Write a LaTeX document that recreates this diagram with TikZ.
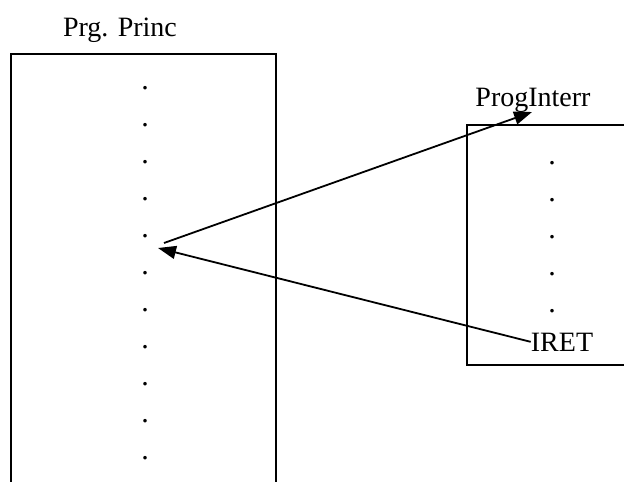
\documentclass[tikz,border=0pt]{standalone}
\usepackage{fontspec}
\setmainfont{Liberation Serif}
\usetikzlibrary{arrows.meta}
\tikzset{
  label/.style={font=\fontsize{28}{33}\selectfont, inner sep=0pt},
  dotmark/.style={font=\fontsize{30}{33}\selectfont, inner sep=0pt},
  frame/.style={line width=1.8pt},
  link/.style={line width=1.8pt, -{Triangle[length=18pt,width=13pt]}}
}
\begin{document}
\begin{tikzpicture}[x=1pt,y=-1pt]
    \useasboundingbox (0,0) rectangle (624,482);
    \clip (0,0) rectangle (624,482);

    % Main program
    \draw[frame] (11,495) -- (11,54) -- (276,54) -- (276,495);
    \node[label, anchor=base] (princ) at (120,36) {Prg. Princ};
    \foreach \i in {1,...,11}
        \node[dotmark] (m\i) at (145,51+37*\i) {.};

    % Interrupt routine
    \draw[frame] (467,125) rectangle (640,365);
    \node[label, anchor=base] (interr) at (533,106) {ProgInterr};
    \foreach \i in {1,...,5}
        \node[dotmark] (r\i) at (552,126+37*\i) {.};
    \node[label, anchor=base] (iret) at (562,351) {IRET};

    % Call and return
    \coordinate (call) at (164,243);
    \coordinate (back) at (158,248);
    \coordinate (entry) at (532,112);
    \draw[link] (call) -- (entry);
    \draw[link] (iret.west) -- (back);
\end{tikzpicture}
\end{document}
